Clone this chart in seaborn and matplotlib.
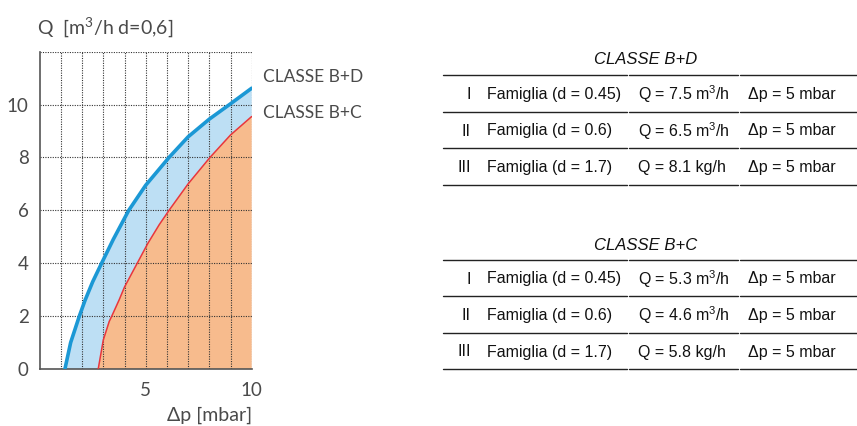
"""Gas regulator flow chart: Q vs delta-p for CLASSE B+D / B+C, plus two summary tables."""

import matplotlib

matplotlib.use("Agg")
import matplotlib.pyplot as plt  # noqa: E402
import seaborn as sns  # noqa: E402
from matplotlib.lines import Line2D  # noqa: E402

# curve readings (delta-p in mbar, Q in m3/h, d=0.6)
dp_bd = [1.19, 1.46, 1.87, 2.14, 2.5, 2.92, 3.47, 4.0, 4.2, 5.0, 6.1, 7.0, 8.0, 8.95, 10.0]
q_bd = [0.0, 1.0, 2.0, 2.6, 3.3, 4.0, 4.9, 5.7, 6.0, 6.95, 8.0, 8.78, 9.45, 10.0, 10.62]
dp_bc = [2.76, 3.0, 3.28, 3.4, 3.75, 4.0, 4.6, 5.1, 5.64, 6.1, 7.0, 8.03, 9.0, 10.0]
q_bc = [0.0, 1.1, 1.8, 2.0, 2.62, 3.1, 4.0, 4.75, 5.46, 6.0, 7.0, 8.0, 8.85, 9.55]

y_ticks = [0, 2, 4, 6, 8, 10]
x_ticks = [5, 10]

table_titles = ["CLASSE B+D", "CLASSE B+C"]
numerals = ["I", "II", "III"]
families = ["Famiglia (d = 0.45)", "Famiglia (d = 0.6)", "Famiglia (d = 1.7)"]
flows_bd = ["Q = 7.5 m$^3$/h", "Q = 6.5 m$^3$/h", "Q = 8.1 kg/h"]
flows_bc = ["Q = 5.3 m$^3$/h", "Q = 4.6 m$^3$/h", "Q = 5.8 kg/h"]
pressure = "Δp = 5 mbar"

BLUE = "#1b98d5"
RED = "#e8363c"
LIGHT_BLUE = "#bddff4"
ORANGE = "#f7bb8d"
TEXT = "#4a4a4a"

sns.set_style("white")
plt.rcParams["font.family"] = ["Lato", "DejaVu Sans"]
plt.rcParams["mathtext.default"] = "regular"

W, H = 857, 426
fig = plt.figure(figsize=(W / 100, H / 100), dpi=100)


def fx(px):
    return px / W


def fy(py):
    return 1 - py / H


ax = fig.add_axes([fx(39.7), fy(369), fx(251.7) - fx(39.7), fy(51.7) - fy(369)])

# bands: orange below B+C, light blue between B+C and B+D
ax.fill(dp_bc + [dp_bc[-1]], q_bc + [0.0], color=ORANGE, lw=0, zorder=1)
ax.fill(dp_bd + dp_bc[::-1], q_bd + q_bc[::-1], color=LIGHT_BLUE, lw=0, zorder=1)
sns.lineplot(x=dp_bc, y=q_bc, sort=False, color=RED, lw=1.1, ax=ax, zorder=3)
sns.lineplot(x=dp_bd, y=q_bd, sort=False, color=BLUE, lw=2.6, ax=ax, zorder=3)

ax.set_xlim(0, 10)
ax.set_ylim(0, 12)
for xv in range(1, 11):
    ax.axvline(xv, color="#333333", lw=0.8, ls=(0, (1, 1.2)), zorder=2)
for yv in range(2, 13, 2):
    ax.axhline(yv, color="#333333", lw=0.8, ls=(0, (1, 1.2)), zorder=2)

for side in ["top", "right"]:
    ax.spines[side].set_visible(False)
for side in ["left", "bottom"]:
    ax.spines[side].set_color("#555555")
    ax.spines[side].set_linewidth(1.2)

ax.set_yticks(y_ticks)
ax.set_xticks(x_ticks)
ax.tick_params(axis="y", length=0, pad=8, labelsize=13.5, labelcolor=TEXT)
ax.tick_params(axis="x", length=0, pad=9, labelsize=13.5, labelcolor=TEXT)
ax.set_xlabel("Δp [mbar]", loc="right", fontsize=14, color=TEXT, labelpad=6)
fig.text(fx(37), fy(27), "Q  [m$^3$/h d=0,6]", fontsize=14, color=TEXT,
         ha="left", va="center")

label_x = (263 - 39.7) / (251.7 - 39.7)
ax.text(label_x, 11.04, "CLASSE B+D", transform=ax.get_yaxis_transform(),
        fontsize=12.5, color=TEXT, ha="left", va="center", clip_on=False)
ax.text(label_x, 9.68, "CLASSE B+C", transform=ax.get_yaxis_transform(),
        fontsize=12.5, color=TEXT, ha="left", va="center", clip_on=False)


def draw_table(title, flows, title_y, line_ys):
    fig.text(fx(646), fy(title_y), title, fontsize=12, style="italic",
             family="Liberation Sans", color="#111111",
             ha="center", va="center")
    segments = [(443, 627), (629, 738), (740, 857)]
    for ly in line_ys:
        for x0, x1 in segments:
            fig.add_artist(Line2D([fx(x0), fx(x1)], [fy(ly), fy(ly)],
                                  color="#222222", lw=1.0))
    for i in range(3):
        cy = (line_ys[i] + line_ys[i + 1]) / 2 + 1
        kw = dict(fontsize=11.5, family="Liberation Sans",
                  color="#111111", va="center")
        fig.text(fx(471), fy(cy), numerals[i], ha="right", **kw)
        fig.text(fx(487), fy(cy), families[i], ha="left", **kw)
        fig.text(fx(638), fy(cy), flows[i], ha="left", **kw)
        fig.text(fx(748), fy(cy), pressure, ha="left", **kw)


draw_table(table_titles[0], flows_bd, 60, [75, 112, 148, 185])
draw_table(table_titles[1], flows_bc, 245, [260, 296, 333, 369])

fig.savefig("out.png", dpi=100)
